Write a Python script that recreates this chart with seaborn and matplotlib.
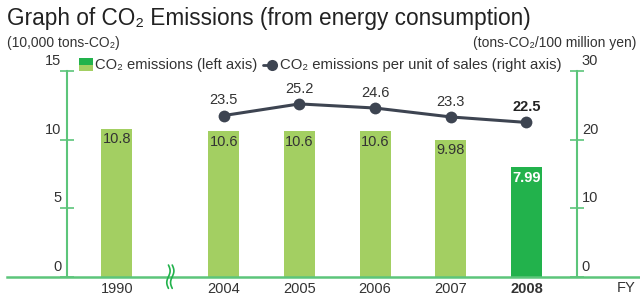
import matplotlib
matplotlib.use("Agg")
import matplotlib.pyplot as plt
import seaborn as sns
import numpy as np
import pandas as pd
from matplotlib.patches import Rectangle
from matplotlib.lines import Line2D

# ---- data ----
years = ["1990", "2004", "2005", "2006", "2007", "2008"]
positions = [-1.41, 0, 1, 2, 3, 4]
emissions = [10.8, 10.6, 10.6, 10.6, 9.98, 7.99]
emission_labels = ["10.8", "10.6", "10.6", "10.6", "9.98", "7.99"]
line_years = ["2004", "2005", "2006", "2007", "2008"]
line_positions = [0, 1, 2, 3, 4]
intensity = [23.5, 25.2, 24.6, 23.3, 22.5]
intensity_labels = ["23.5", "25.2", "24.6", "23.3", "22.5"]
left_ticks = [0, 5, 10, 15]
right_ticks = [0, 10, 20, 30]

LIGHT = "#a3cf62"
DARK = "#22b24c"
AXISG = "#5cc57a"
LINEC = "#3d4451"
TXT = "#333333"

sns.set_theme(style="white")
plt.rcParams['font.family'] = ['Liberation Sans', 'DejaVu Sans']

W, H = 640, 298
fig = plt.figure(figsize=(W / 100, H / 100), dpi=100)

def fx(px):
    return px / W

def fy(py):
    return 1 - py / H

base_px, top_px = 276.7, 71.0
ax = fig.add_axes([fx(7), fy(base_px), fx(640) - fx(7), fy(top_px) - fy(base_px)])
ax.patch.set_alpha(0)

df = pd.DataFrame({"pos": positions, "year": years, "val": emissions})
palette = {y: (DARK if y == "2008" else LIGHT) for y in years}
sns.barplot(data=df, x="pos", y="val", hue="year", palette=palette, native_scale=True,
            width=0.41, legend=False, ax=ax, saturation=1, dodge=False, linewidth=0)

xl = (-2.863, 5.50)
ax.set_xlim(*xl)
ax.set_ylim(0, 15)
left_x, right_x = -2.07, 4.667

for s in ["top", "right"]:
    ax.spines[s].set_visible(False)
ax.spines["left"].set_position(("data", left_x))
ax.spines["left"].set_bounds(0, 15)
ax.spines["left"].set_color(AXISG)
ax.spines["left"].set_linewidth(1.5)
ax.spines["bottom"].set_color(AXISG)
ax.spines["bottom"].set_linewidth(1.8)
ax.spines["bottom"].set_zorder(5)
ax.set_yticks(left_ticks)
ax.tick_params(axis="y", direction="inout", length=10.5, width=1.2, color=AXISG,
               labelleft=False, left=True)
ax.set_xticks(positions)
ax.set_xticklabels(years)
ax.tick_params(axis="x", length=0, pad=4, labelsize=10.5, labelcolor=TXT)
for lbl in ax.get_xticklabels():
    if lbl.get_text() == "2008":
        lbl.set_fontweight("bold")
ax.set_xlabel("")
ax.set_ylabel("")

for t in left_ticks:
    ax.annotate(str(t), (left_x, t), xytext=(-4, 2), textcoords="offset points",
                ha="right", va="bottom", fontsize=10.5, color=TXT)

# bar labels
for p, v, lab, y in zip(positions, emissions, emission_labels, years):
    ax.annotate(lab, (p, v), xytext=(0, -2.5), textcoords="offset points",
                ha="center", va="top", fontsize=10.5,
                color="white" if y == "2008" else TXT,
                fontweight="bold" if y == "2008" else "normal")

# right axis
ax2 = ax.twinx()
ax2.set_ylim(0, 30)
ax2.set_xlim(*xl)
for s in ["top", "left", "bottom"]:
    ax2.spines[s].set_visible(False)
ax2.spines["right"].set_position(("data", right_x))
ax2.spines["right"].set_bounds(0, 30)
ax2.spines["right"].set_color(AXISG)
ax2.spines["right"].set_linewidth(1.5)
ax2.set_yticks(right_ticks)
ax2.tick_params(axis="y", direction="inout", length=10.5, width=1.2, color=AXISG,
                labelright=False, right=True)
ax2.grid(False)
ax.grid(False)

ldf = pd.DataFrame({"pos": line_positions, "val": intensity})
sns.lineplot(data=ldf, x="pos", y="val", ax=ax2, color=LINEC, linewidth=2.2,
             marker="o", markersize=8.5, markeredgewidth=0)
ax2.set_xlabel("")
ax2.set_ylabel("")
for t in right_ticks:
    ax2.annotate(str(t), (right_x, t), xytext=(3.5, 2), textcoords="offset points",
                 ha="left", va="bottom", fontsize=10.5, color=TXT)
for p, v, lab, y in zip(line_positions, intensity, intensity_labels, line_years):
    ax2.annotate(lab, (p, v), xytext=(0, 6), textcoords="offset points",
                 ha="center", va="bottom", fontsize=10.5, color=TXT if y != "2008" else "#222222",
                 fontweight="bold" if y == "2008" else "normal")

# axis break marks
xb = (positions[0] + positions[1]) / 2
tt = np.linspace(-1, 1, 40)
for dx in (-0.025, 0.025):
    xs = xb + dx + 0.022 * np.sin(tt * np.pi)
    ys = tt * 0.85
    ax.plot(xs, ys, color=DARK, lw=1.2, clip_on=False, zorder=6)

# FY
fig.text(fx(636), fy(288), "FY", ha="right", va="center", fontsize=10.5, color=TXT)

# titles
fig.text(fx(7), fy(19), "Graph of CO\u2082 Emissions (from energy consumption)",
         ha="left", va="center", fontsize=16.3, color="#222222")
fig.text(fx(7), fy(43), "(10,000 tons-CO\u2082)", ha="left", va="center",
         fontsize=10, color=TXT)
fig.text(fx(636), fy(43), "(tons-CO\u2082/100 million yen)", ha="right", va="center",
         fontsize=10, color=TXT)

# legend
fig.patches.append(Rectangle((fx(79), fy(65)), fx(13.5), fy(58.3) - fy(65),
                             transform=fig.transFigure, color=DARK, lw=0))
fig.patches.append(Rectangle((fx(79), fy(71)), fx(13.5), fy(65) - fy(71),
                             transform=fig.transFigure, color=LIGHT, lw=0))
fig.text(fx(95), fy(65), "CO\u2082 emissions (left axis)", ha="left", va="center",
         fontsize=10.6, color=TXT)
fig.lines.append(Line2D([fx(263), fx(272)], [fy(65), fy(65)], transform=fig.transFigure,
                        color=LINEC, lw=2))
fig.lines.append(Line2D([fx(272)], [fy(65)], transform=fig.transFigure, color=LINEC,
                        marker="o", markersize=8, markeredgewidth=0))
fig.text(fx(280), fy(65), "CO\u2082 emissions per unit of sales (right axis)", ha="left",
         va="center", fontsize=10.7, color=TXT)

fig.savefig("out.png", dpi=100)
